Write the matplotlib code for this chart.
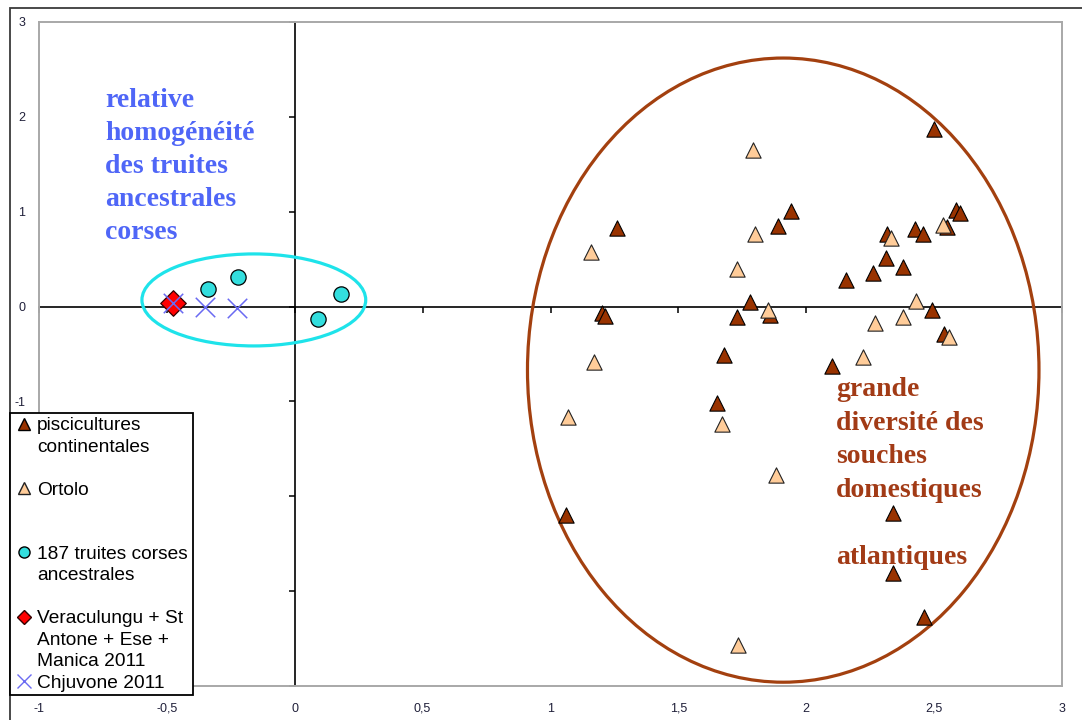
import matplotlib
matplotlib.use("Agg")
import matplotlib.pyplot as plt
from matplotlib.patches import Ellipse, Rectangle
from matplotlib.lines import Line2D

#### DATA

# axis ticks
x_ticks = [-1, -0.5, 0, 0.5, 1, 1.5, 2, 2.5, 3]
x_tick_labels = ["-1", "-0,5", "0", "0,5", "1", "1,5", "2", "2,5", "3"]
y_ticks = [-4, -3, -2, -1, 0, 1, 2, 3]
y_tick_labels = ["-4", "-3", "-2", "-1", "0", "1", "2", "3"]

# piscicultures continentales
pisci_x = [2.50, 1.26, 1.94, 1.89, 1.20, 1.215, 1.78, 1.73, 1.86, 1.68,
           1.65, 1.06, 2.34, 2.34, 2.46, 2.10, 2.585, 2.60, 2.55, 2.315,
           2.425, 2.455, 2.31, 2.26, 2.38, 2.155, 2.49, 2.54]
pisci_y = [1.87, 0.83, 1.01, 0.85, -0.07, -0.10, 0.05, -0.11, -0.09, -0.51,
           -1.02, -2.20, -2.18, -2.81, -3.27, -0.63, 1.02, 0.99, 0.84, 0.76,
           0.82, 0.76, 0.51, 0.35, 0.42, 0.28, -0.04, -0.29]

# Ortolo
ortolo_x = [1.79, 1.16, 1.80, 1.73, 1.85, 1.17, 1.07, 1.67, 1.88, 1.735,
            2.535, 2.33, 2.43, 2.27, 2.38, 2.56, 2.22]
ortolo_y = [1.65, 0.58, 0.77, 0.40, -0.04, -0.58, -1.16, -1.24, -1.78, -3.57,
            0.86, 0.72, 0.06, -0.17, -0.11, -0.32, -0.53]

# 187 truites corses ancestrales
corses_x = [-0.34, -0.22, 0.18, 0.09]
corses_y = [0.18, 0.31, 0.13, -0.13]

# Veraculungu + St Antone + Ese + Manica 2011
vera_x = [-0.475]
vera_y = [0.04]

# Chjuvone 2011
chju_x = [-0.475, -0.35, -0.225]
chju_y = [0.035, 0.0, -0.01]

# groupings (centre x, centre y, width, height)
cyan_group = (-0.16, 0.07, 0.875, 0.97)
brown_group = (1.91, -0.67, 2.0, 6.58)

blue_note = "relative\nhomogénéité\ndes truites\nancestrales\ncorses"
brown_note = "grande\ndiversité des\nsouches\ndomestiques\n\natlantiques"

# legend lines (excel style wrapping)
legend_lines = [["piscicultures", "continentales", ""],
                ["Ortolo", "", ""],
                ["187 truites corses", "ancestrales", ""],
                ["Veraculungu + St", "Antone + Ese +", "Manica 2011"],
                ["Chjuvone 2011"]]

#### FIGURE

W, H = 1082, 720
fig = plt.figure(figsize=(W / 100, H / 100), dpi=100)
ax = fig.add_axes([39 / W, 1 - 686 / H, (1062 - 39) / W, (686 - 22) / H])
ax.set_xlim(-1, 3)
ax.set_ylim(-4, 3)
for s in ax.spines.values():
    s.set_color("#a8a8a8")
    s.set_linewidth(1.4)
ax.set_xticks(x_ticks, labels=x_tick_labels)
ax.set_yticks(y_ticks, labels=y_tick_labels)
ax.tick_params(axis="both", length=0, labelsize=9, colors="#20203a")
ax.tick_params(axis="x", pad=12)
ax.tick_params(axis="y", pad=10)
for t in ax.get_xticklabels() + ax.get_yticklabels():
    t.set_family("Liberation Sans")

# zero axes with ticks
xl, yl = ax.get_xlim(), ax.get_ylim()
secx = ax.secondary_xaxis((0 - yl[0]) / (yl[1] - yl[0]))
secx.set_alignment("bottom")
secx.set_xticks(x_ticks)
secx.tick_params(direction="out", length=4, width=1.1, color="black",
                 labelbottom=False, labeltop=False)
secx.spines["bottom"].set_color("black")
secx.spines["bottom"].set_linewidth(1.2)

secy = ax.secondary_yaxis((0 - xl[0]) / (xl[1] - xl[0]))
secy.set_alignment("left")
secy.set_yticks(y_ticks)
secy.tick_params(direction="out", length=4, width=1.1, color="black",
                 labelleft=False, labelright=False)
secy.spines["left"].set_color("black")
secy.spines["left"].set_linewidth(1.2)

# ellipses
ax.add_patch(Ellipse(cyan_group[:2], cyan_group[2], cyan_group[3], fill=False,
                     edgecolor="#1ee3ea", linewidth=2.3, zorder=2))
ax.add_patch(Ellipse(brown_group[:2], brown_group[2], brown_group[3], fill=False,
                     edgecolor="#a3400f", linewidth=2.3, zorder=2))

# points
ax.scatter(pisci_x, pisci_y, marker="^", s=11 ** 2, c="#993300",
           edgecolors="black", linewidths=0.8, zorder=3)
ax.scatter(ortolo_x, ortolo_y, marker="^", s=11 ** 2, c="#ffcc99",
           edgecolors="#222222", linewidths=0.8, zorder=4)
ax.scatter(corses_x, corses_y, marker="o", s=11 ** 2, c="#33dede",
           edgecolors="black", linewidths=0.9, zorder=4)
ax.scatter(vera_x, vera_y, marker="D", s=13 ** 2, c="#ff0000",
           edgecolors="#330000", linewidths=0.9, zorder=5)
ax.scatter(chju_x, chju_y, marker="x", s=14 ** 2, c="#6a6af2",
           linewidths=1.1, zorder=6)

# notes
ax.text(-0.742, 2.307, blue_note, ha="left", va="top", color="#4f66f7",
        family="Liberation Serif", weight="bold", fontsize=20, linespacing=1.42)
ax.text(2.116, -0.742, brown_note, ha="left", va="top", color="#a23b16",
        family="Liberation Serif", weight="bold", fontsize=20, linespacing=1.45)

# legend, one row per text line
def blank():
    return Line2D([], [], linestyle="none")

markers = [
    Line2D([], [], linestyle="none", marker="^", markersize=9, markerfacecolor="#993300", markeredgecolor="black"),
    Line2D([], [], linestyle="none", marker="^", markersize=9, markerfacecolor="#ffcc99", markeredgecolor="#222222"),
    Line2D([], [], linestyle="none", marker="o", markersize=8, markerfacecolor="#33dede", markeredgecolor="black"),
    Line2D([], [], linestyle="none", marker="D", markersize=7, markerfacecolor="#ff0000", markeredgecolor="#330000"),
    Line2D([], [], linestyle="none", marker="x", markersize=10, color="#6a6af2"),
]
handles, labels = [], []
for mk, lines in zip(markers, legend_lines):
    for i, line in enumerate(lines):
        handles.append(mk if i == 0 else blank())
        labels.append(line)

leg = fig.legend(handles, labels, loc="upper left",
                 bbox_to_anchor=(10 / W, 1 - 413 / H, 183 / W, 0), mode="expand",
                 prop={"family": "Liberation Sans", "size": 13.8},
                 frameon=True, fancybox=False, framealpha=1, edgecolor="black",
                 borderpad=0.2, labelspacing=0.21, handlelength=1.1,
                 handletextpad=0.1, borderaxespad=0)
leg.get_frame().set_linewidth(1.3)

# outer chart border
fig.patches.append(Rectangle((10 / W, -0.2), 1.2, 1.2 - 8 / H, transform=fig.transFigure,
                             fill=False, edgecolor="#3a3a3a", linewidth=1.3))

fig.savefig("out.png", dpi=100)
